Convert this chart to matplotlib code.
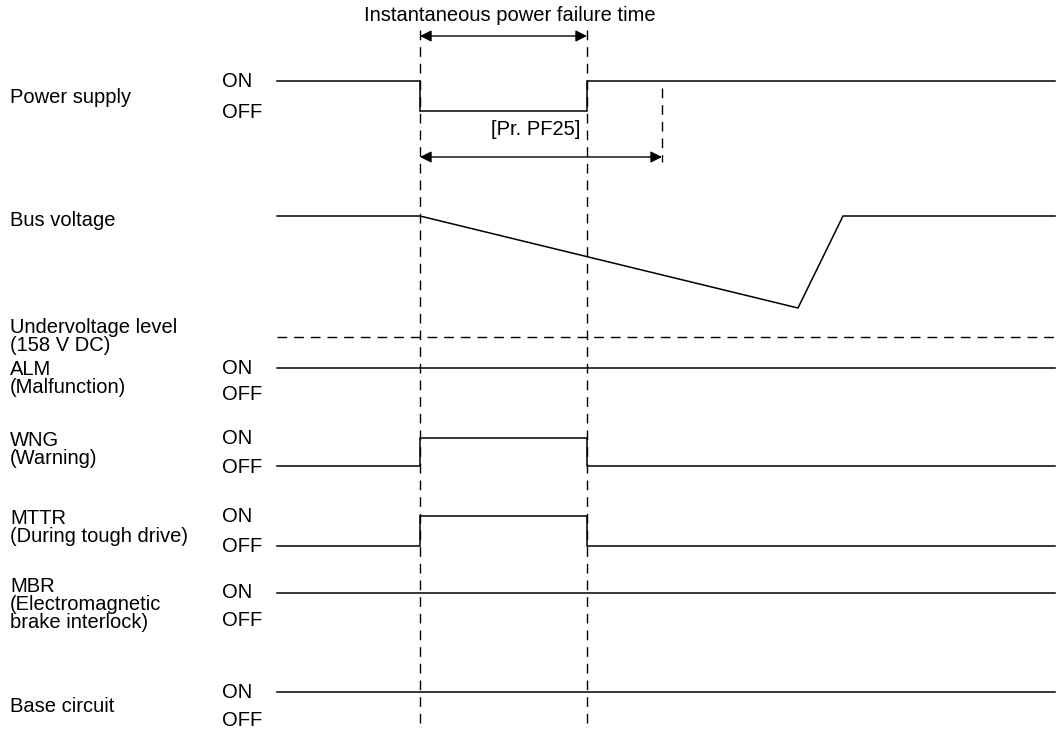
import matplotlib.pyplot as plt

plt.rcParams['font.family'] = ['Liberation Sans', 'DejaVu Sans']

# time axis (drawing units along x)
t_start = 277
t_fail = 420
t_restore = 587
t_pf25 = 662
t_end = 1055

# bus voltage profile
bus_t = [277, 420, 798, 843, 1055]
bus_y = [216, 216, 308, 216, 216]
undervoltage_y = 337

# signal rows: label lines, label y, ON y, OFF y, state list over time
signals = [
    (["Power supply"], [97], 81, 111, [(277, 1), (420, 0), (587, 1), (1055, 1)]),
    (["ALM", "(Malfunction)"], [369, 387], 368, 393, [(277, 1), (1055, 1)]),
    (["WNG", "(Warning)"], [440, 458], 438, 466, [(277, 0), (420, 1), (587, 0), (1055, 0)]),
    (["MTTR", "(During tough drive)"], [518, 536], 516, 546, [(277, 0), (420, 1), (587, 0), (1055, 0)]),
    (["MBR", "(Electromagnetic", "brake interlock)"], [586, 604, 622], 593, 620, [(277, 1), (1055, 1)]),
    (["Base circuit"], [707], 692, 720, [(277, 1), (1055, 1)]),
]

fig = plt.figure(figsize=(10.57, 7.35), dpi=100)
ax = fig.add_axes([0, 0, 1, 1])
ax.set_xlim(0, 1057)
ax.set_ylim(735, 0)
ax.axis('off')

fs = 14.5
lw = 1.1

for labels, label_ys, y_on, y_off, states in signals:
    for txt, ly in zip(labels, label_ys):
        ax.text(10, ly, txt, fontsize=fs, va='center', ha='left')
    ax.text(222, y_on, "ON", fontsize=fs, va='center', ha='left')
    ax.text(222, y_off + 1, "OFF", fontsize=fs, va='center', ha='left')
    xs, ys = [], []
    for i, (t, s) in enumerate(states):
        y = y_on if s else y_off
        if i > 0:
            xs.append(t)
            ys.append(ys[-1])
        xs.append(t)
        ys.append(y)
    ax.plot(xs, ys, color='black', lw=lw, solid_joinstyle='miter')

# bus voltage
ax.text(10, 220, "Bus voltage", fontsize=fs, va='center', ha='left')
ax.plot(bus_t, bus_y, color='black', lw=lw)

# undervoltage level
ax.text(10, 327, "Undervoltage level", fontsize=fs, va='center', ha='left')
ax.text(10, 345, "(158 V DC)", fontsize=fs, va='center', ha='left')
ax.plot([t_start, t_end], [undervoltage_y, undervoltage_y], color='black', lw=1.0,
        dashes=(7, 5))

# vertical dashed guides
for t in [t_fail, t_restore]:
    ax.plot([t, t], [30, 730], color='black', lw=1.0, dashes=(7, 5))
ax.plot([t_pf25, t_pf25], [88, 162], color='black', lw=1.0, dashes=(7, 5))

# dimension arrows
arrow = dict(arrowstyle='<|-|>', color='black', lw=1.0, mutation_scale=17,
             shrinkA=0, shrinkB=0)
ax.annotate('', xy=(t_fail, 36), xytext=(t_restore, 36), arrowprops=arrow)
ax.text(510, 15, "Instantaneous power failure time", fontsize=fs, va='center', ha='center')
ax.annotate('', xy=(t_fail, 157), xytext=(t_pf25, 157), arrowprops=arrow)
ax.text(580, 129, "[Pr. PF25]", fontsize=fs, va='center', ha='right')

fig.savefig('out.png', dpi=100)
